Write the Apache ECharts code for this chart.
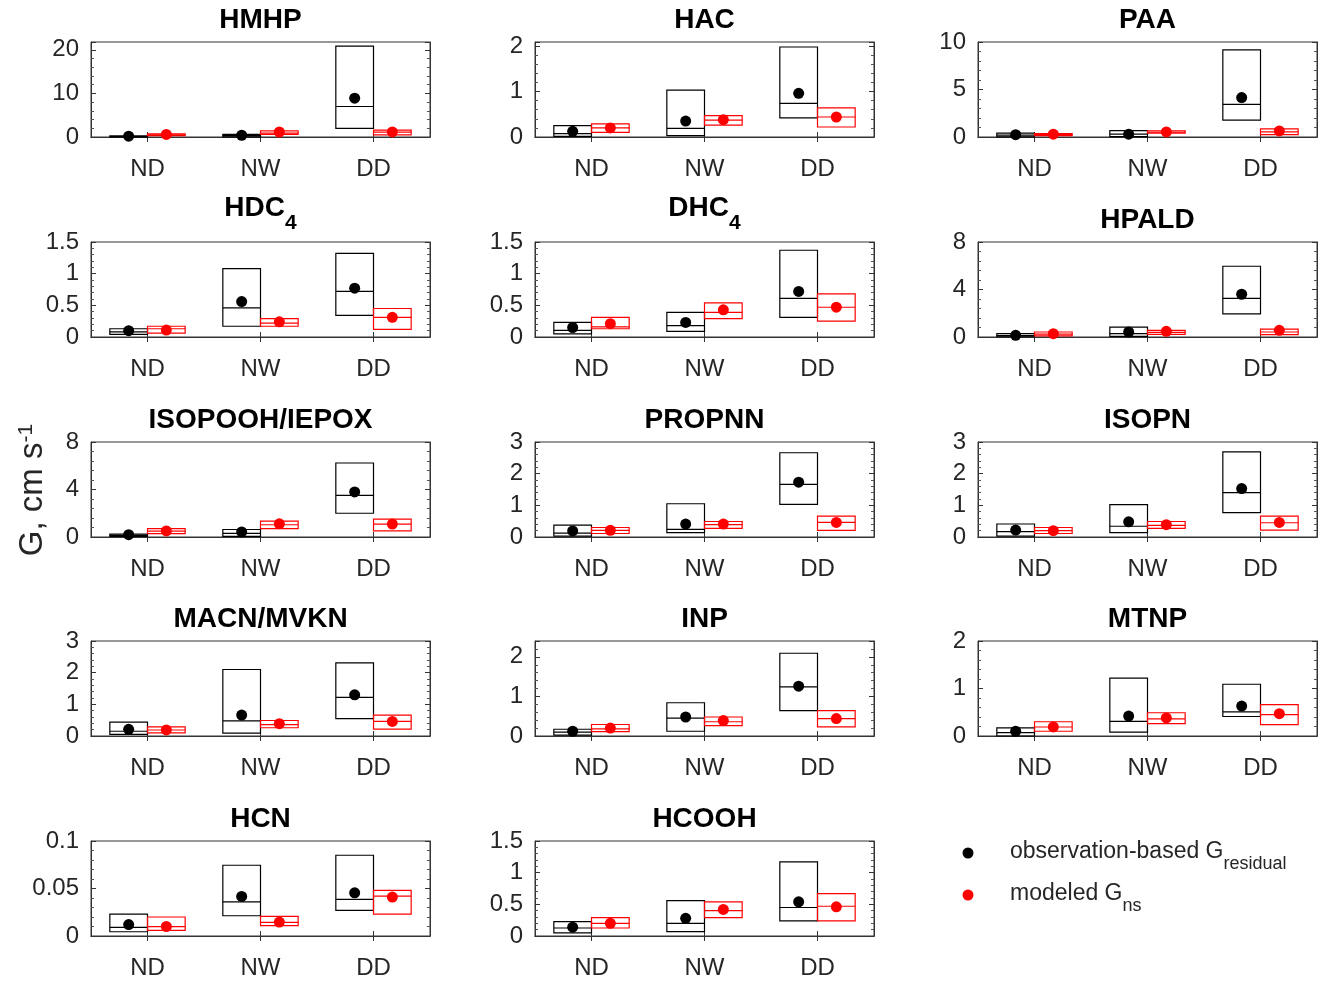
<!DOCTYPE html>
<html>
<head>
<meta charset="utf-8">
<script src="https://cdn.jsdelivr.net/npm/echarts@6/dist/echarts.min.js"></script>
<style>
html,body{margin:0;padding:0;background:#fff;}
#c{width:1325px;height:984px;}
</style>
</head>
<body>
<div id="c"></div>
<script>
// ---------------- DATA ----------------
const categories = ['ND', 'NW', 'DD'];
const panelTitles = ['HMHP', 'HAC', 'PAA', 'HDC|4', 'DHC|4', 'HPALD', 'ISOPOOH/IEPOX', 'PROPNN', 'ISOPN',
  'MACN/MVKN', 'INP', 'MTNP', 'HCN', 'HCOOH'];
const yMax = [21.8, 2.09, 10, 1.5, 1.5, 8, 8, 3, 3, 3, 2.4, 2, 0.1, 1.5];
const yInterval = [10, 1, 5, 0.5, 0.5, 4, 4, 1, 1, 1, 1, 1, 0.05, 0.5];

// observation-based (black): per panel [ND, NW, DD]
const obsLow = [
  [0.02, 0.05, 2.0], [0.015, 0.03, 0.42], [0.02, 0.03, 1.77], [0.04, 0.17, 0.34], [0.05, 0.09, 0.31],
  [0.02, 0.06, 1.94], [0.05, 0.06, 2.0], [0.03, 0.14, 1.03], [0.03, 0.14, 0.77], [0.05, 0.09, 0.55],
  [0.02, 0.12, 0.64], [0.0, 0.08, 0.41], [0.0045, 0.0213, 0.027], [0.05, 0.07, 0.24]
];
const obsHigh = [
  [0.25, 0.6, 20.85], [0.25, 1.03, 1.98], [0.4, 0.67, 9.18], [0.13, 1.08, 1.32], [0.23, 0.39, 1.37],
  [0.28, 0.84, 5.96], [0.25, 0.63, 6.23], [0.375, 1.05, 2.66], [0.41, 1.02, 2.69], [0.44, 2.1, 2.31],
  [0.17, 0.84, 2.09], [0.17, 1.22, 1.09], [0.023, 0.0745, 0.085], [0.226, 0.56, 1.17]
];
const obsMedian = [
  [0.1, 0.3, 7.0], [0.074, 0.19, 0.74], [0.2, 0.3, 3.44], [0.08, 0.46, 0.72], [0.105, 0.18, 0.61],
  [0.12, 0.28, 3.26], [0.14, 0.31, 3.51], [0.12, 0.24, 1.66], [0.17, 0.34, 1.4], [0.15, 0.48, 1.22],
  [0.1, 0.45, 1.24], [0.07, 0.31, 0.51], [0.009, 0.036, 0.0385], [0.126, 0.2, 0.45]
];
const obsMean = [
  [0.2, 0.4, 8.9], [0.126, 0.35, 0.96], [0.25, 0.3, 4.15], [0.10, 0.56, 0.77], [0.15, 0.23, 0.72],
  [0.14, 0.42, 3.6], [0.2, 0.43, 3.8], [0.19, 0.41, 1.73], [0.22, 0.48, 1.53], [0.21, 0.66, 1.3],
  [0.12, 0.48, 1.26], [0.1, 0.42, 0.63], [0.012, 0.0416, 0.0455], [0.14, 0.28, 0.54]
];
// modeled (red)
const modLow = [
  [0.3, 0.6, 0.5], [0.10, 0.26, 0.22], [0.15, 0.4, 0.25], [0.06, 0.17, 0.12], [0.13, 0.29, 0.25],
  [0.1, 0.22, 0.2], [0.29, 0.71, 0.51], [0.11, 0.27, 0.21], [0.11, 0.27, 0.22], [0.1, 0.26, 0.22],
  [0.11, 0.26, 0.23], [0.1, 0.26, 0.24], [0.006, 0.011, 0.023], [0.126, 0.29, 0.24]
];
const modHigh = [
  [0.7, 1.4, 1.6], [0.29, 0.47, 0.64], [0.35, 0.65, 0.85], [0.17, 0.29, 0.45], [0.31, 0.54, 0.68],
  [0.42, 0.56, 0.67], [0.71, 1.34, 1.51], [0.3, 0.49, 0.66], [0.3, 0.49, 0.66], [0.29, 0.49, 0.66],
  [0.29, 0.48, 0.64], [0.3, 0.49, 0.66], [0.02, 0.0206, 0.048], [0.29, 0.54, 0.67]
];
const modMedian = [
  [0.5, 0.9, 1.1], [0.2, 0.37, 0.44], [0.25, 0.5, 0.53], [0.13, 0.22, 0.31], [0.16, 0.39, 0.47],
  [0.25, 0.39, 0.42], [0.5, 1.03, 1.09], [0.21, 0.39, 0.46], [0.2, 0.37, 0.45], [0.19, 0.36, 0.46],
  [0.18, 0.36, 0.44], [0.19, 0.36, 0.45], [0.0098, 0.0143, 0.042], [0.2, 0.4, 0.47]
];
const modMean = [
  [0.6, 1.15, 1.16], [0.2, 0.38, 0.44], [0.3, 0.53, 0.64], [0.11, 0.24, 0.31], [0.21, 0.43, 0.47],
  [0.28, 0.48, 0.56], [0.51, 1.11, 1.09], [0.21, 0.41, 0.46], [0.2, 0.39, 0.46], [0.19, 0.39, 0.46],
  [0.2, 0.39, 0.44], [0.19, 0.38, 0.47], [0.010, 0.0147, 0.041], [0.2, 0.42, 0.46]
];
const legendLabels = [['observation-based G', 'residual'], ['modeled G', 'ns']];
const yAxisTitle = ['G, cm s', '-1'];

// ---------------- LAYOUT / STYLE ----------------
const FONT = '"Liberation Sans", Arial, Helvetica, sans-serif';
const AX = '#333333';
const TXT = '#262626';
const colLeft = [91, 535, 978];
const rowTop = [42, 242, 442, 641, 841];
const W = 339, H = 95;

function makeRender(side, color, lw) {
  return function (params, api) {
    const i = api.value(0);
    const lo = api.coord([i, api.value(1)]);
    const hi = api.coord([i, api.value(2)]);
    const md = api.coord([i, api.value(3)]);
    const mn = api.coord([i, api.value(4)]);
    const bw = api.size([1, 0])[0] / 3;
    const x0 = side < 0 ? lo[0] - bw : lo[0];
    const cx = x0 + bw / 2;
    return {
      type: 'group',
      children: [
        { type: 'rect', shape: { x: x0, y: hi[1], width: bw, height: lo[1] - hi[1] },
          style: { fill: 'none', stroke: color, lineWidth: lw } },
        { type: 'line', shape: { x1: x0, y1: md[1], x2: x0 + bw, y2: md[1] },
          style: { stroke: color, lineWidth: lw } },
        { type: 'circle', shape: { cx: cx, cy: mn[1], r: 5.5 }, style: { fill: color, stroke: null } }
      ]
    };
  };
}

const grids = [], xAxes = [], yAxes = [], series = [], graphics = [];

panelTitles.forEach(function (t, p) {
  const r = Math.floor(p / 3), c = p % 3;
  grids.push({
    left: colLeft[c], top: rowTop[r], width: W, height: H,
    show: true, borderColor: AX, borderWidth: 1, backgroundColor: 'transparent',
    containLabel: false, outerBoundsMode: 'none'
  });
  const xBase = {
    type: 'category', gridIndex: p, data: categories, boundaryGap: true,
    axisLine: { show: true, lineStyle: { color: AX, width: 1 } },
    axisTick: { show: true, inside: true, alignWithLabel: true, length: 5, lineStyle: { color: AX } },
    splitLine: { show: false }
  };
  xAxes.push(Object.assign({}, xBase, {
    position: 'bottom',
    axisLabel: { show: true, fontSize: 24, color: TXT, fontFamily: FONT, margin: 20, interval: 0 }
  }));
  xAxes.push(Object.assign({}, xBase, { position: 'top', axisLabel: { show: false } }));

  const ratio = yMax[p] / yInterval[p];
  const onTick = Math.abs(ratio - Math.round(ratio)) < 1e-6;
  const yBase = {
    type: 'value', gridIndex: p, min: 0, max: yMax[p], interval: yInterval[p],
    axisLine: { show: true, lineStyle: { color: AX, width: 1 } },
    axisTick: { show: true, inside: true, length: 5, lineStyle: { color: AX } },
    minorTick: { show: true, splitNumber: 5, length: 3, lineStyle: { color: '#555' } },
    splitLine: { show: false }, minorSplitLine: { show: false }
  };
  yAxes.push(Object.assign({}, yBase, {
    position: 'left',
    axisLabel: { show: true, fontSize: 24, color: TXT, fontFamily: FONT, margin: 12,
      showMinLabel: true, showMaxLabel: onTick, hideOverlap: false }
  }));
  yAxes.push(Object.assign({}, yBase, { position: 'right', axisLabel: { show: false } }));

  const obsData = categories.map(function (cat, i) {
    return [i, obsLow[p][i], obsHigh[p][i], obsMedian[p][i], obsMean[p][i]];
  });
  const modData = categories.map(function (cat, i) {
    return [i, modLow[p][i], modHigh[p][i], modMedian[p][i], modMean[p][i]];
  });
  series.push({
    type: 'custom', name: 'obs', xAxisIndex: 2 * p, yAxisIndex: 2 * p,
    renderItem: makeRender(-1, '#000000', 1.2), data: obsData,
    encode: { x: 0, y: [1, 2, 3, 4] }, z: 3, silent: true
  });
  series.push({
    type: 'custom', name: 'mod', xAxisIndex: 2 * p, yAxisIndex: 2 * p,
    renderItem: makeRender(1, '#ff0000', 1.2), data: modData,
    encode: { x: 0, y: [1, 2, 3, 4] }, z: 3, silent: true
  });

  // titles
  const cx = colLeft[c] + W / 2;
  const parts = t.split('|');
  if (parts.length > 1) {
    graphics.push({
      type: 'text', x: cx, y: rowTop[r] - 19, z: 10,
      style: {
        text: '{b|' + parts[0] + '}{s|' + parts[1] + '}',
        align: 'center', verticalAlign: 'middle',
        rich: {
          b: { fontSize: 28, fontWeight: 'bold', fontFamily: FONT, fill: '#000', lineHeight: 30, verticalAlign: 'top' },
          s: { fontSize: 21, fontWeight: 'bold', fontFamily: FONT, fill: '#000', lineHeight: 58, verticalAlign: 'middle' }
        }
      }
    });
  } else {
    graphics.push({
      type: 'text', x: cx, y: rowTop[r] - 22, z: 10,
      style: { text: t, fontSize: 28, fontWeight: 'bold', fontFamily: FONT, fill: '#000',
        align: 'center', verticalAlign: 'middle' }
    });
  }
});

// y-axis title
graphics.push({
  type: 'text', x: 37, y: 490, rotation: Math.PI / 2, z: 10,
  style: {
    text: '{a|' + yAxisTitle[0] + '}{p|' + yAxisTitle[1] + '}',
    align: 'center', verticalAlign: 'middle',
    rich: {
      a: { fontSize: 33, fontFamily: FONT, fill: TXT, lineHeight: 42, verticalAlign: 'top' },
      p: { fontSize: 21, fontFamily: FONT, fill: TXT, lineHeight: 21, verticalAlign: 'top' }
    }
  }
});

// legend
const legendColors = ['#000000', '#ff0000'];
const legendY = [853, 895];
legendLabels.forEach(function (lab, k) {
  graphics.push({ type: 'circle', shape: { cx: 968, cy: legendY[k], r: 5.5 }, style: { fill: legendColors[k] }, z: 10 });
  graphics.push({
    type: 'text', x: 1010, y: legendY[k] + 11, z: 10,
    style: {
      text: '{a|' + lab[0] + '}{s|' + lab[1] + '}',
      align: 'left', verticalAlign: 'middle',
      rich: {
        a: { fontSize: 23, fontFamily: FONT, fill: TXT, lineHeight: 26, verticalAlign: 'top' },
        s: { fontSize: 18, fontFamily: FONT, fill: TXT, lineHeight: 48, verticalAlign: 'middle' }
      }
    }
  });
});

const chart = echarts.init(document.getElementById('c'), null, { renderer: 'canvas', width: 1325, height: 984 });
chart.setOption({
  backgroundColor: '#ffffff',
  animation: false,
  grid: grids,
  xAxis: xAxes,
  yAxis: yAxes,
  series: series,
  graphic: graphics
});
</script>
</body>
</html>
